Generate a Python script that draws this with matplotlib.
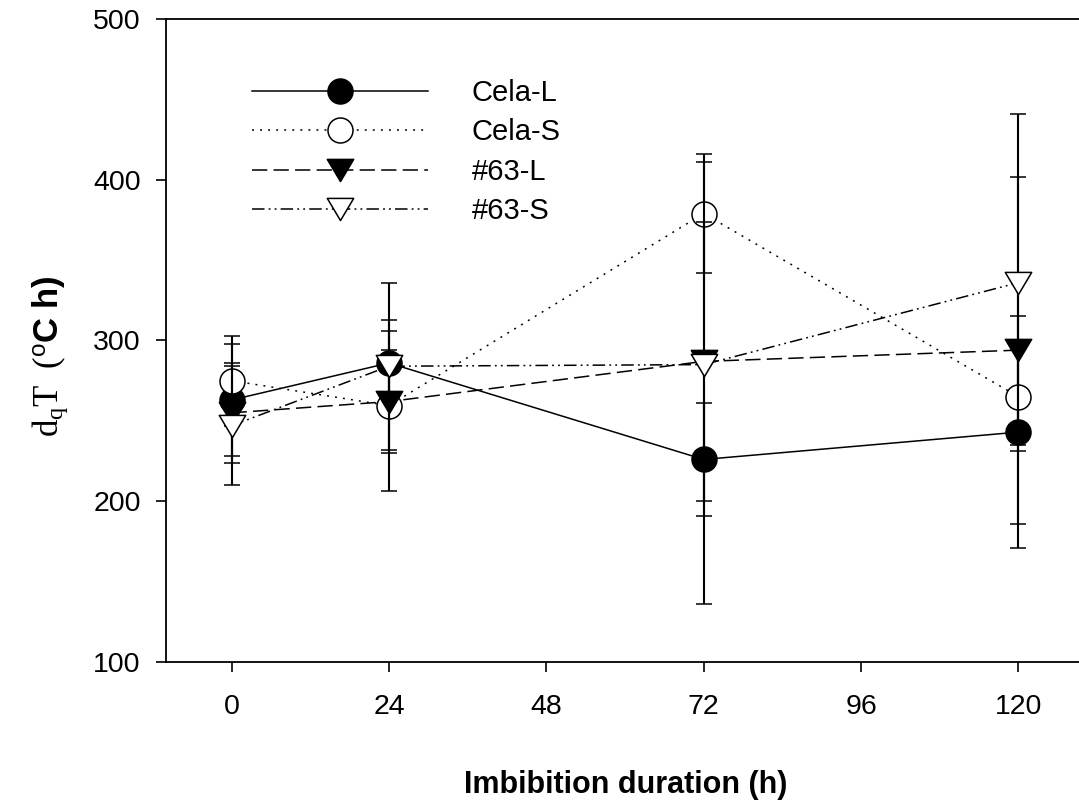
import matplotlib
matplotlib.use("Agg")
import matplotlib.pyplot as plt
from matplotlib.path import Path
import numpy as np

plt.rcParams['font.family'] = ['Liberation Sans', 'DejaVu Sans']
plt.rcParams['mathtext.fontset'] = 'custom'
plt.rcParams['mathtext.rm'] = 'Liberation Serif'
plt.rcParams['mathtext.it'] = 'Liberation Serif:italic'
plt.rcParams['mathtext.bf'] = 'Liberation Sans:bold'
plt.rcParams['mathtext.sf'] = 'Liberation Sans'
plt.rcParams['lines.scale_dashes'] = False

# ---- data ----
hours = [0, 24, 72, 120]
xticks = [0, 24, 48, 72, 96, 120]
yticks = [100, 200, 300, 400, 500]

series_names = ['Cela-L', 'Cela-S', '#63-L', '#63-S']

cela_l = [263, 286, 226, 243]
cela_l_lo = [35, 20, 35, 72]
cela_l_hi = [35, 20, 35, 72]

cela_s = [275, 259.5, 379, 265]
cela_s_lo = [28, 53, 37, 30]
cela_s_hi = [28, 53, 37, 30]

l63 = [255, 262, 287, 294]
l63_lo = [31, 32, 87, 108]
l63_hi = [31, 32, 87, 108]

s63 = [247, 284, 285, 336]
s63_lo = [37, 52, 149, 105]
s63_hi = [37, 52, 126, 105]

# ---- figure ----
W, H = 1079, 808
fig = plt.figure(figsize=(W / 100, H / 100), dpi=100)
ax = fig.add_axes([166 / W, (H - 662) / H, 918 / W, 643 / H])

tri_down = Path([(-1, 0.84), (1, 0.84), (0, -0.84), (-1, 0.84)], closed=True)

styles = [
    dict(marker='o', ms=18, mfc='black', mec='black', ls='-'),
    dict(marker='o', ms=18, mfc='white', mec='black', ls=(0, (1.4, 4.4))),
    dict(marker=tri_down, ms=19, mfc='black', mec='black', ls=(0, (11, 4.5))),
    dict(marker=tri_down, ms=19, mfc='white', mec='black',
         ls=(0, (9, 3, 1.3, 3, 1.3, 3))),
]
vals = [cela_l, cela_s, l63, s63]
los = [cela_l_lo, cela_s_lo, l63_lo, s63_lo]
his = [cela_l_hi, cela_s_hi, l63_hi, s63_hi]

handles = []
for i, (name, y, lo, hi, st) in enumerate(zip(series_names, vals, los, his, styles)):
    cont = ax.errorbar(hours, y, yerr=[lo, hi], color='black', lw=1.1,
                       elinewidth=1.5, capsize=6, capthick=1.5, mew=1.1,
                       zorder=2 + i, label=name, **st)
    handles.append(cont[0])

ax.set_xlim(-10, 130)
ax.set_ylim(100, 500)
ax.set_xticks(xticks)
ax.set_yticks(yticks)
ax.tick_params(direction='out', length=7.2, width=1.2, labelsize=20.5)
ax.tick_params(axis='x', pad=16)
ax.tick_params(axis='y', pad=11)
for s in ['top', 'left', 'bottom']:
    ax.spines[s].set_linewidth(1.3)
ax.spines['right'].set_visible(False)

leg = ax.legend(handles, series_names, loc='upper left',
                bbox_to_anchor=(252 / W, 1 - 79 / H),
                bbox_transform=fig.transFigure, frameon=False,
                fontsize=21, numpoints=1, handlelength=6.03,
                handletextpad=1.5, labelspacing=0.39, borderpad=0,
                borderaxespad=0)

fig.text(626 / W, 1 - 785 / H, 'Imbibition duration (h)', ha='center',
         va='center', fontsize=22, fontweight='bold')
fig.text(50 / W, 1 - 356 / H,
         r'$\mathrm{d_{q}T\ \ (^{\mathsf{o}}}\mathbf{C\ h)}$',
         rotation=90, ha='center', va='center', fontsize=25)

fig.savefig('out.png', dpi=100)
